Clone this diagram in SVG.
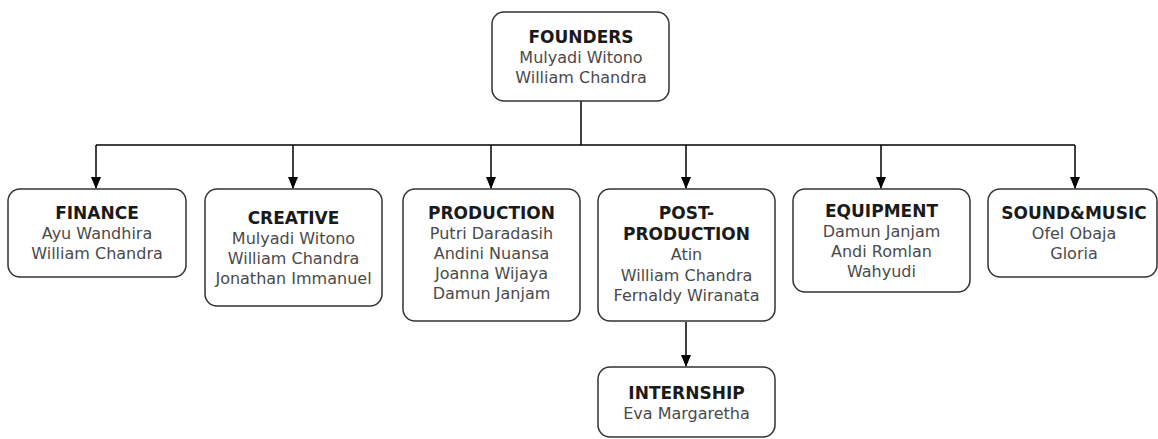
<svg xmlns="http://www.w3.org/2000/svg" width="1158" height="439" viewBox="0 0 1158 439">
<style>
.box{fill:#fff;stroke:#333;stroke-width:1.5}
.t{font-family:"DejaVu Sans",Verdana,sans-serif;font-size:16px;text-anchor:middle}
.h{font-weight:bold;fill:#1a1a1a;font-size:17px}
.n{fill:#4a4a4a}
.c{fill:none;stroke:#000;stroke-width:1.5}
</style>
<defs>
<marker id="arr" markerWidth="10" markerHeight="12" refX="5" refY="11" orient="0" markerUnits="userSpaceOnUse" viewBox="0 0 10 12">
<path d="M0,0 L10,0 L5,12 Z" fill="#000"/>
</marker>
</defs>
<rect width="1158" height="439" fill="#fff"/>
<g id="connectors">
<path class="c" d="M581,101 V145"/>
<path class="c" d="M96,145 H1075"/>
<path class="c" d="M96,145 V188" marker-end="url(#arr)"/>
<path class="c" d="M293,145 V188" marker-end="url(#arr)"/>
<path class="c" d="M491,145 V188" marker-end="url(#arr)"/>
<path class="c" d="M686,145 V188" marker-end="url(#arr)"/>
<path class="c" d="M881,145 V188" marker-end="url(#arr)"/>
<path class="c" d="M1075,145 V188" marker-end="url(#arr)"/>
<path class="c" d="M686,322 V366" marker-end="url(#arr)"/>
</g>
<g id="founders">
<rect class="box" x="492" y="12" width="177" height="89" rx="12"/>
<text class="t h" x="581" y="43">FOUNDERS</text>
<text class="t n" x="581" y="63">Mulyadi Witono</text>
<text class="t n" x="581" y="83">William Chandra</text>
</g>
<g id="finance">
<rect class="box" x="8" y="189" width="178" height="88" rx="12"/>
<text class="t h" x="97" y="219">FINANCE</text>
<text class="t n" x="97" y="239">Ayu Wandhira</text>
<text class="t n" x="97" y="259">William Chandra</text>
</g>
<g id="creative">
<rect class="box" x="205" y="189" width="177" height="117" rx="12"/>
<text class="t h" x="293.5" y="224">CREATIVE</text>
<text class="t n" x="293.5" y="244">Mulyadi Witono</text>
<text class="t n" x="293.5" y="264">William Chandra</text>
<text class="t n" x="293.5" y="284">Jonathan Immanuel</text>
</g>
<g id="production">
<rect class="box" x="403" y="189" width="177" height="132" rx="12"/>
<text class="t h" x="491.5" y="219">PRODUCTION</text>
<text class="t n" x="491.5" y="239">Putri Daradasih</text>
<text class="t n" x="491.5" y="259">Andini Nuansa</text>
<text class="t n" x="491.5" y="279">Joanna Wijaya</text>
<text class="t n" x="491.5" y="299">Damun Janjam</text>
</g>
<g id="post-production">
<rect class="box" x="598" y="189" width="177" height="132" rx="12"/>
<text class="t h" x="686.5" y="219">POST-</text>
<text class="t h" x="686.5" y="240">PRODUCTION</text>
<text class="t n" x="686.5" y="260">Atin</text>
<text class="t n" x="686.5" y="281">William Chandra</text>
<text class="t n" x="686.5" y="301">Fernaldy Wiranata</text>
</g>
<g id="equipment">
<rect class="box" x="793" y="189" width="177" height="103" rx="12"/>
<text class="t h" x="881.5" y="217">EQUIPMENT</text>
<text class="t n" x="881.5" y="237">Damun Janjam</text>
<text class="t n" x="881.5" y="257">Andi Romlan</text>
<text class="t n" x="881.5" y="277">Wahyudi</text>
</g>
<g id="sound-music">
<rect class="box" x="988" y="189" width="169" height="88" rx="12"/>
<text class="t h" x="1074" y="219">SOUND&amp;MUSIC</text>
<text class="t n" x="1074" y="239">Ofel Obaja</text>
<text class="t n" x="1074" y="259">Gloria</text>
</g>
<g id="internship">
<rect class="box" x="598" y="367" width="177" height="70" rx="12"/>
<text class="t h" x="686.5" y="399">INTERNSHIP</text>
<text class="t n" x="686.5" y="419">Eva Margaretha</text>
</g>
</svg>
